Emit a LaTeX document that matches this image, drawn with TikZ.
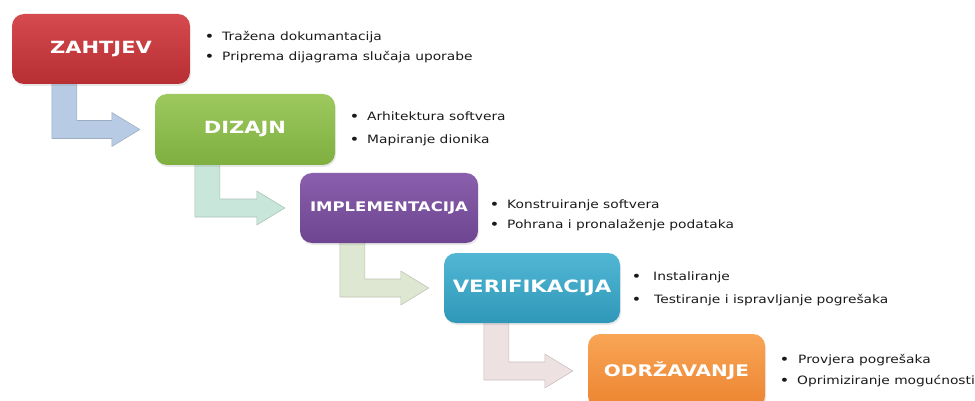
\documentclass[tikz,border=0pt]{standalone}
\usepackage{fontspec}
\setmainfont{DejaVu Sans}[FakeStretch=1.2]
\newfontfamily\titlefont{DejaVu Sans}[FakeStretch=1.25]
\usetikzlibrary{calc,backgrounds,shadows}
\definecolor{redT}{HTML}{D44A4E}\definecolor{redB}{HTML}{B72E33}
\definecolor{grnT}{HTML}{9DC95F}\definecolor{grnB}{HTML}{7EAF3F}
\definecolor{purT}{HTML}{8A5FAD}\definecolor{purB}{HTML}{6D4590}
\definecolor{bluT}{HTML}{52B7D4}\definecolor{bluB}{HTML}{2F97B9}
\definecolor{orT}{HTML}{F8A555}\definecolor{orB}{HTML}{EC8431}
\definecolor{arA}{HTML}{B8CBE4}\definecolor{arB}{HTML}{C8E6D9}
\definecolor{arC}{HTML}{DEE7D1}\definecolor{arD}{HTML}{EEE1E1}
\definecolor{txt}{HTML}{1A1A1A}
\tikzset{
  phase/.style={rounded corners=12pt, inner sep=0pt, text=white,
    font=\titlefont\bfseries, align=center,
    drop shadow={opacity=0.18, shadow xshift=1pt, shadow yshift=-2pt}},
  item/.style={anchor=base west, inner sep=0pt, text=txt,
    font=\fontsize{11.5}{14}\selectfont},
}
\newcommand\bul[1]{\makebox[#1][l]{\textbf{•}}}
\newcommand\flowarrow[3]{%
  \path[fill=#3, draw=#3!85!black, line width=0.6pt, line join=round]
    let \p1=(#1.south west), \p2=(#2.west) in
    (\x1+40pt,\y1+4pt) -- (\x1+65pt,\y1+4pt) -- (\x1+65pt,\y2+9pt) --
    (\x2-43pt,\y2+9pt) -- (\x2-43pt,\y2+17pt) -- (\x2-15pt,\y2) --
    (\x2-43pt,\y2-17pt) -- (\x2-43pt,\y2-9pt) -- (\x1+40pt,\y2-9pt) -- cycle;}
\begin{document}
\begin{tikzpicture}[x=1pt,y=-1pt]
\useasboundingbox (0,0) rectangle (975,401);
% boxes
\node[phase, minimum width=178pt, minimum height=70pt, top color=redT, bottom color=redB,
  font=\titlefont\bfseries\fontsize{16.8}{18}\selectfont] (z) at (101,49) {ZAHTJEV};
\node[phase, minimum width=180pt, minimum height=71pt, top color=grnT, bottom color=grnB,
  font=\titlefont\bfseries\fontsize{16.8}{18}\selectfont] (d) at (245,129.5) {DIZAJN};
\node[phase, minimum width=178pt, minimum height=70pt, top color=purT, bottom color=purB,
  font=\titlefont\bfseries\fontsize{13.2}{15}\selectfont] (i) at (389,208) {IMPLEMENTACIJA};
\node[phase, minimum width=176pt, minimum height=70pt, top color=bluT, bottom color=bluB,
  font=\titlefont\bfseries\fontsize{17}{19}\selectfont] (v) at (532,288) {VERIFIKACIJA};
\node[phase, minimum width=177pt, minimum height=74pt, top color=orT, bottom color=orB,
  font=\titlefont\bfseries\fontsize{16}{18}\selectfont] (o) at (676.5,371) {ODRŽAVANJE};
% arrows
\begin{scope}[on background layer]
\flowarrow{z}{d}{arA}
\flowarrow{d}{i}{arB}
\flowarrow{i}{v}{arC}
\flowarrow{v}{o}{arD}
\end{scope}
% bullet lists
\node[item] (z1) at (205,41) {\bul{17pt}Tražena dokumantacija};
\node[item] (z2) at (205,61) {\bul{17pt}Priprema dijagrama slučaja uporabe};
\node[item] (d1) at (350,121) {\bul{17pt}Arhitektura softvera};
\node[item] (d2) at (350,144) {\bul{17pt}Mapiranje dionika};
\node[item] (i1) at (490,208) {\bul{17pt}Konstruiranje softvera};
\node[item] (i2) at (490,228) {\bul{17pt}Pohrana i pronalaženje podataka};
\node[item] (v1) at (632,280) {\bul{21pt}Instaliranje};
\node[item] (v2) at (632,303) {\bul{22pt}Testiranje i ispravljanje pogrešaka};
\node[item] (o1) at (780,363) {\bul{18pt}Provjera pogrešaka};
\node[item] (o2) at (780,384) {\bul{17pt}Oprimiziranje mogućnosti};
\end{tikzpicture}
\end{document}
